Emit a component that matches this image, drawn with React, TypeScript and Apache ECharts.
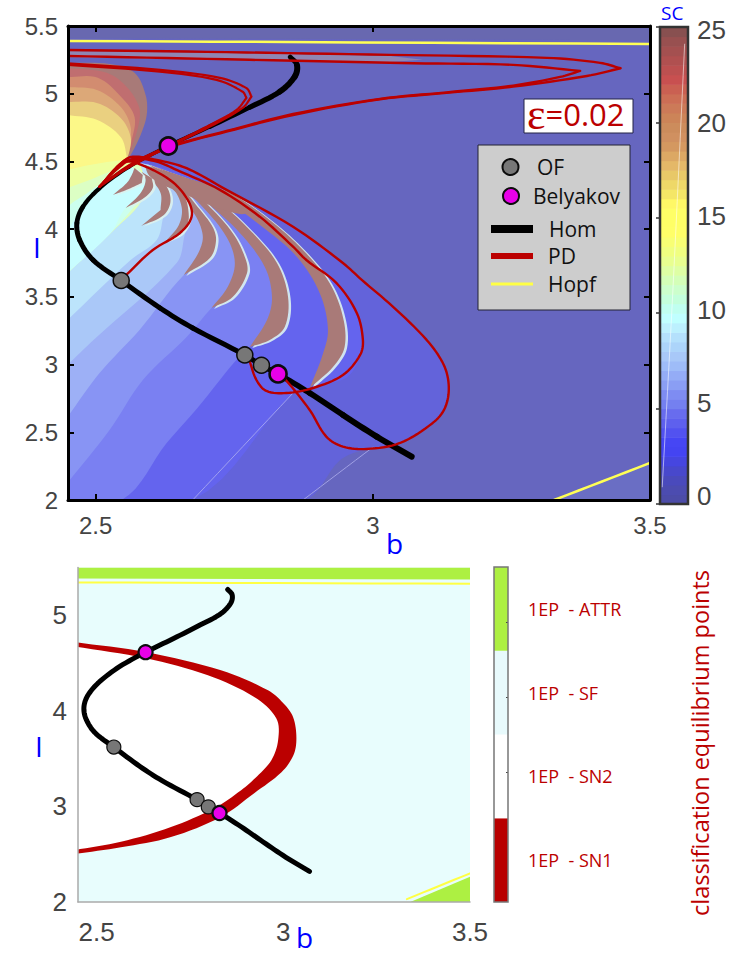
import React, { useEffect, useRef } from "react";
import * as echarts from "echarts";

type P = number[];

// ---- tick labels
const bTicks = [2.5, 3, 3.5];
const iTicksLower = [2, 3, 4, 5];
const scTicks = [0, 5, 10, 15, 20, 25];
const classTicks = [0.388, 0.612, 0.836];
const classNames = ["1EP  - SN1", "1EP  - SN2", "1EP  - SF", "1EP  - ATTR"];
const classColors = ["#b80000", "#ffffff", "#e8fafc", "#adf042"];

// ---- curves (b, I)
const hom: P[] = [[2.851,5.270],[2.863,5.213],[2.859,5.126],[2.832,5.015],[2.778,4.900],[2.706,4.757],[2.631,4.614],[2.561,4.462],[2.507,4.302],[2.477,4.166],[2.466,4.044],[2.471,3.920],[2.495,3.773],[2.546,3.621],[2.616,3.418],[2.675,3.270],[2.769,3.071],[2.799,2.995],[2.829,2.931],[2.886,2.790],[2.946,2.628],[3.007,2.468],[3.070,2.320]];
const ofPoints: P[] = [[2.546,3.621],[2.769,3.071],[2.799,2.995]];
const belyakovPoints: P[] = [[2.631,4.614],[2.829,2.931]];

const pdOuterTop: P[] = [[2.449,5.323],[2.736,5.307],[3.031,5.287],[3.314,5.265],[3.410,5.228],[3.447,5.188],[3.386,5.131],[3.253,5.052],[3.133,5.006],[3.013,4.959],[2.856,4.843],[2.736,4.720],[2.646,4.622],[2.573,4.511],[2.549,4.498],[2.507,4.314]];
const pdInnerTop: P[] = [[2.449,5.279],[2.736,5.254],[3.072,5.225],[3.253,5.213],[3.374,5.168],[3.338,5.124],[3.253,5.060],[3.133,5.010],[3.013,4.962],[2.856,4.850],[2.736,4.725],[2.646,4.630]];
const pdBigLoop: P[] = [[2.829,2.931],[2.844,2.881],[2.886,2.665],[2.916,2.468],[2.946,2.394],[2.989,2.377],[3.049,2.421],[3.108,2.569],[3.130,2.679],[3.137,2.835],[3.128,2.997],[3.097,3.182],[3.036,3.428],[2.980,3.625],[2.946,3.750],[2.856,4.018],[2.736,4.290],[2.664,4.450],[2.610,4.511],[2.567,4.535],[2.549,4.498],[2.507,4.314]];
const pdMidLoop: P[] = [[2.778,3.021],[2.790,2.886],[2.808,2.805],[2.844,2.790],[2.892,2.827],[2.946,2.923],[2.977,3.071],[2.982,3.182],[2.971,3.381],[2.934,3.603],[2.880,3.772],[2.856,3.871],[2.796,4.092],[2.724,4.290],[2.646,4.437],[2.610,4.498],[2.567,4.518],[2.537,4.437],[2.507,4.314]];
const pdSmallLoop: P[] = [[2.555,3.662],[2.603,3.846],[2.652,3.972],[2.673,4.092],[2.666,4.216],[2.634,4.363],[2.573,4.489],[2.549,4.489],[2.507,4.314]];
const pdTopLoopA: P[] = [[2.449,5.225],[2.616,5.176],[2.724,5.117],[2.772,5.041],[2.781,4.979],[2.765,4.895],[2.706,4.757],[2.646,4.637],[2.561,4.459],[2.507,4.314]];
const pdTopLoopB: P[] = [[2.449,5.213],[2.616,5.163],[2.718,5.102],[2.765,5.015],[2.772,4.969],[2.754,4.880],[2.700,4.757],[2.646,4.646],[2.561,4.474],[2.507,4.314]];
const hopfTop: P[] = [[2.449,5.390],[3.5,5.368]];
const hopfBottom: P[] = [[3.327,2.0],[3.5,2.273]];
const hopfTopLower: P[] = [[2.449,5.344],[3.5,5.33]];
const hopfBottomLower: P[] = [[3.331,2.03],[3.5,2.30]];

// ---- SC map regions (b, I)
const topStripe: P[] = [[2.449,5.5],[3.5,5.5],[3.5,5.395],[2.449,5.41]];
const grayStripe: P[] = [[2.449,5.315],[2.736,5.30],[3.031,5.278],[3.09,5.25],[3.031,5.235],[2.736,5.25],[2.449,5.27]];
const cornerRegion: P[] = [[3.327,2.0],[3.5,2.0],[3.5,2.273]];
const blobDim: P[] = [[2.449,4.54],[2.567,4.535],[2.664,4.45],[2.736,4.29],[2.856,4.018],[2.946,3.75],[3.036,3.428],[3.097,3.182],[3.128,2.997],[3.137,2.835],[3.130,2.679],[3.108,2.569],[3.049,2.421],[2.989,2.377],[2.941,2.295],[2.874,2.0],[2.449,2.0]];
const blobBright: P[] = [[2.675,2.0],[2.856,2.790],[2.904,2.849],[2.958,2.923],[2.982,3.182],[2.971,3.381],[2.934,3.603],[2.856,3.876],[2.783,4.142],[2.693,4.349],[2.561,4.511],[2.449,4.511],[2.449,2.0]];
const band1: P[] = [[2.547,2],[2.628,2.421],[2.682,2.672],[2.765,3.086],[2.814,3.256],[2.847,3.499],[2.827,3.750],[2.778,3.994],[2.718,4.216],[2.597,4.474],[2.449,4.474],[2.449,2]];
const band2: P[] = [[2.449,2.126],[2.525,2.517],[2.585,2.886],[2.664,3.204],[2.709,3.418],[2.773,3.677],[2.769,3.795],[2.747,3.972],[2.706,4.164],[2.597,4.474],[2.449,4.474]];
const band3: P[] = [[2.449,2.613],[2.507,2.938],[2.579,3.256],[2.659,3.662],[2.706,3.787],[2.717,3.913],[2.711,4.016],[2.684,4.164],[2.597,4.474],[2.449,4.474]];
const band4: P[] = [[2.449,2.997],[2.496,3.182],[2.646,3.750],[2.662,3.979],[2.673,4.068],[2.668,4.164],[2.646,4.312],[2.597,4.474],[2.449,4.474]];
const band5: P[] = [[2.449,3.329],[2.563,3.772],[2.610,3.920],[2.623,4.105],[2.635,4.216],[2.623,4.341],[2.597,4.474],[2.449,4.474]];
const heat1: P[] = [[2.449,5.228],[2.525,5.220],[2.570,5.154],[2.590,4.991],[2.592,4.843],[2.581,4.696],[2.563,4.548],[2.540,4.422],[2.507,4.290],[2.449,3.920]];
const heat2: P[] = [[2.449,5.191],[2.520,5.154],[2.556,5.050],[2.578,4.903],[2.578,4.784],[2.565,4.607],[2.554,4.511],[2.507,4.290],[2.449,3.920]];
const heat3: P[] = [[2.449,5.124],[2.504,5.117],[2.546,4.976],[2.570,4.829],[2.565,4.659],[2.554,4.511],[2.507,4.290],[2.449,3.920]];
const heat4: P[] = [[2.449,5.050],[2.502,5.028],[2.545,4.903],[2.563,4.755],[2.560,4.607],[2.554,4.511],[2.507,4.290],[2.449,3.920]];
const heat5: P[] = [[2.449,4.939],[2.502,4.932],[2.545,4.821],[2.563,4.681],[2.560,4.563],[2.554,4.511],[2.507,4.290],[2.449,3.920]];
const heat6: P[] = [[2.449,4.843],[2.502,4.807],[2.545,4.681],[2.556,4.533],[2.554,4.511],[2.507,4.290],[2.449,3.920]];
const green1: P[] = [[2.449,4.437],[2.489,4.474],[2.552,4.511],[2.579,4.511],[2.588,4.253],[2.527,3.972],[2.449,3.677]];
const green2: P[] = [[2.449,4.304],[2.489,4.363],[2.534,4.437],[2.579,4.474],[2.588,4.253],[2.527,3.972],[2.449,3.677]];
const green3: P[] = [[2.449,4.142],[2.480,4.253],[2.525,4.378],[2.561,4.474],[2.588,4.253],[2.527,3.972],[2.449,3.677]];
const cyanCap: P[] = [[2.449,3.957],[2.471,4.127],[2.516,4.341],[2.561,4.474],[2.572,4.437],[2.601,4.378],[2.603,4.304],[2.587,4.230],[2.554,4.157],[2.527,3.972],[2.449,3.677]];

const crescentA: P[] = [[2.531,4.253],[2.556,4.341],[2.565,4.400],[2.570,4.452],[2.585,4.400],[2.583,4.341],[2.556,4.290]];
const crescentB: P[] = [[2.554,4.157],[2.581,4.267],[2.590,4.363],[2.583,4.422],[2.601,4.378],[2.603,4.304],[2.587,4.230]];
const crescentC: P[] = [[2.582,4.024],[2.617,4.142],[2.617,4.267],[2.596,4.386],[2.623,4.341],[2.635,4.216],[2.623,4.105]];
const crescentD: P[] = [[2.626,3.908],[2.650,4.031],[2.655,4.164],[2.637,4.312],[2.601,4.400],[2.653,4.290],[2.668,4.090],[2.655,3.972]];
const crescentE: P[] = [[2.659,3.662],[2.686,3.832],[2.693,3.957],[2.677,4.120],[2.646,4.267],[2.597,4.437],[2.657,4.290],[2.684,4.164],[2.711,4.016],[2.717,3.913],[2.706,3.787]];
const crescentF: P[] = [[2.709,3.418],[2.738,3.573],[2.751,3.750],[2.736,3.942],[2.693,4.164],[2.652,4.312],[2.597,4.452],[2.670,4.290],[2.706,4.164],[2.747,3.972],[2.769,3.795],[2.773,3.677],[2.747,3.499]];
const crescentG: P[] = [[2.778,3.130],[2.809,3.329],[2.818,3.499],[2.805,3.721],[2.760,3.972],[2.700,4.194],[2.652,4.312],[2.597,4.474],[2.664,4.349],[2.718,4.216],[2.778,3.994],[2.827,3.750],[2.847,3.499],[2.841,3.278],[2.814,3.182]];
const crescentH: P[] = [[2.886,2.827],[2.908,3.056],[2.919,3.256],[2.904,3.529],[2.863,3.795],[2.801,4.016],[2.724,4.238],[2.657,4.363],[2.597,4.474],[2.664,4.378],[2.742,4.267],[2.814,4.068],[2.874,3.846],[2.922,3.603],[2.946,3.352],[2.949,3.130],[2.928,2.982]];
const crescentFan: P[] = [[2.588,4.474],[2.664,4.378],[2.742,4.267],[2.787,4.127],[2.760,4.112],[2.700,4.186],[2.652,4.275],[2.625,4.319],[2.597,4.393]];
const faintLineA: P[] = [[2.675,2.0],[2.856,2.790]];
const faintLineB: P[] = [[2.874,2.0],[3.0,2.39]];

// ---- classification regions (b, I)
const sn1Region: P[] = [[2.44,4.720],[2.632,4.615],[2.833,4.424],[2.959,4.215],[3.0,4.08],[3.026,3.936],[3.035,3.714],[3.027,3.536],[2.995,3.358],[2.922,3.139],[2.833,2.891],[2.699,2.679],[2.565,2.572],[2.44,2.502],[2.44,2.543],[2.565,2.630],[2.699,2.784],[2.815,2.982],[2.887,3.170],[2.930,3.317],[2.968,3.484],[2.986,3.693],[2.981,3.923],[2.922,4.145],[2.798,4.372],[2.632,4.550],[2.44,4.675]];
const sn2Region: P[] = [[2.44,2.52],[2.565,2.60],[2.699,2.73],[2.815,2.94],[2.887,3.15],[2.968,3.48],[3.0,3.70],[2.99,3.93],[2.93,4.16],[2.80,4.40],[2.632,4.58],[2.44,4.70]];
const attrTop: P[] = [[2.44,5.5],[3.51,5.5],[3.51,5.375],[2.44,5.385]];
const attrCorner: P[] = [[3.34,2.0],[3.51,2.0],[3.51,2.28]];

// ---- SC colour bar, one colour per 0.5 step from 0 to 25
const scLevels = [0,0.5,1,1.5,2,2.5,3,3.5,4,4.5,5,5.5,6,6.5,7,7.5,8,8.5,9,9.5,10,10.5,11,11.5,12,12.5,13,13.5,14,14.5,15,15.5,16,16.5,17,17.5,18,18.5,19,19.5,20,20.5,21,21.5,22,22.5,23,23.5,24,24.5];
const scColors = ["#4c4ca8","#4c4cb0","#4a4abc","#4848cc","#4646e0","#4444f2","#4646f4","#5252f0","#5e60ee","#686cee","#7480f0","#7e8cf2","#8a9ef4","#94acf6","#9ebcf8","#a8c8f8","#acd4fa","#b4e0fc","#bcf0fe","#c0ffff","#c0fff0","#c4ffdc","#ccffcc","#d4ffb8","#deffa4","#e8ff90","#f0ff80","#f8ff74","#ffff68","#ffff66","#ffff66","#fff866","#f4e666","#eed868","#e8c868","#e4b868","#dca864","#d49860","#d09060","#cc8c5c","#cc8458","#cc7a58","#cc6e55","#ca6052","#c85050","#bc5050","#b05050","#a45050","#985050","#885050"];
const scSheen: P[] = [[0.08,0.9],[0.45,10.9],[0.88,24.1]];

const SANS = "Liberation Sans";
const LABEL = "Open Sans";
const RED = "#bb0000";
const BLUE = "#0000ff";
const TICK = "#444444";
const STEPS = 8;
// stroke width of the Hom curve at each of its vertices
const homWidths = [4,6,6,5.5,5,4,3.5,3.5,4,4.5,5,5,5,5,5,5,5,5,5.5,5.5,6,6,6];

// Rounds a path through its own vertices; vertices that turn sharply stay sharp.
function rounded(pts: number[][], closed: boolean, cornerDeg = 62): number[][] {
  const n = pts.length;
  const at = (i: number) => (closed ? pts[(i + n) % n] : pts[Math.max(0, Math.min(n - 1, i))]);
  const tangents = pts.map((p, i) => {
    const a = at(i - 1);
    const b = at(i + 1);
    const u = [p[0] - a[0], p[1] - a[1]];
    const v = [b[0] - p[0], b[1] - p[1]];
    const lu = Math.hypot(u[0], u[1]);
    const lv = Math.hypot(v[0], v[1]);
    if (lu && lv) {
      const cos = (u[0] * v[0] + u[1] * v[1]) / (lu * lv);
      if ((Math.acos(Math.max(-1, Math.min(1, cos))) * 180) / Math.PI > cornerDeg) return null;
    }
    const t = [b[0] - a[0], b[1] - a[1]];
    const l = Math.hypot(t[0], t[1]) || 1;
    return [t[0] / l, t[1] / l];
  });
  const out: number[][] = [];
  const last = closed ? n : n - 1;
  for (let i = 0; i < last; i++) {
    const a = pts[i];
    const b = at(i + 1);
    const len = Math.hypot(b[0] - a[0], b[1] - a[1]);
    const dir = [(b[0] - a[0]) / (len || 1), (b[1] - a[1]) / (len || 1)];
    const m0 = tangents[i] || dir;
    const m1 = tangents[closed ? (i + 1) % n : i + 1] || dir;
    for (let k = 0; k < STEPS; k++) {
      const t = k / STEPS;
      const h00 = 2 * t * t * t - 3 * t * t + 1;
      const h10 = t * t * t - 2 * t * t + t;
      const h01 = -2 * t * t * t + 3 * t * t;
      const h11 = t * t * t - t * t;
      out.push([
        h00 * a[0] + h10 * len * m0[0] + h01 * b[0] + h11 * len * m1[0],
        h00 * a[1] + h10 * len * m0[1] + h01 * b[1] + h11 * len * m1[1],
      ]);
    }
  }
  if (!closed) out.push(pts[n - 1]);
  return out;
}

function region(points: P[], fill: string, xAxisIndex: number, yAxisIndex: number, round = true) {
  return {
    type: "custom", xAxisIndex, yAxisIndex, clip: true, silent: true, data: [0],
    renderItem: (_: any, api: any) => {
      const pts = points.map((p) => api.coord(p));
      return { type: "polygon", shape: { points: round ? rounded(pts, true) : pts }, style: { fill } };
    },
  };
}

function crescent(points: P[]) {
  return {
    type: "custom", xAxisIndex: 0, yAxisIndex: 0, clip: true, silent: true, data: [0],
    renderItem: (_: any, api: any) => {
      const pts = rounded(points.map((p) => api.coord(p)), true, 50);
      return {
        type: "group",
        children: [
          { type: "polygon", x: 2.5, y: 1, shape: { points: pts }, style: { fill: "#dcf2ee", opacity: 0.9 } },
          { type: "polygon", shape: { points: pts }, style: { fill: "#a97a78" } },
        ],
      };
    },
  };
}

function curve(data: P[], stroke: string, width: number, x: number, y: number) {
  return {
    type: "custom", xAxisIndex: x, yAxisIndex: y, clip: true, silent: true, data: [0],
    renderItem: (_: any, api: any) => ({
      type: "polyline",
      shape: { points: rounded(data.map((p) => api.coord(p)), false) },
      style: { fill: "none", stroke, lineWidth: width, lineCap: "round", lineJoin: "round" },
    }),
  };
}

function taperedCurve(data: P[], widths: number[], stroke: string, x: number, y: number) {
  return {
    type: "custom", xAxisIndex: x, yAxisIndex: y, clip: true, silent: true, data: [0],
    renderItem: (_: any, api: any) => {
      const pts = rounded(data.map((p) => api.coord(p)), false);
      const children = [];
      for (let i = 0; i < data.length - 1; i++) {
        children.push({
          type: "polyline",
          shape: { points: pts.slice(i * STEPS, (i + 1) * STEPS + 1) },
          style: { fill: "none", stroke, lineWidth: (widths[i] + widths[i + 1]) / 2, lineCap: "round", lineJoin: "round" },
        });
      }
      return { type: "group", children };
    },
  };
}

function marks(data: P[], color: string, size: number, border: number, x: number, y: number) {
  return {
    type: "scatter", xAxisIndex: x, yAxisIndex: y, data, symbol: "circle", symbolSize: size, silent: true,
    itemStyle: { color, borderColor: "#0c0c0c", borderWidth: border, opacity: 1 },
  };
}

function buildOption() {
  const mapSeries = [
    region(topStripe, "#6868b0", 0, 0, false),
    region(cornerRegion, "#6a6ec4", 0, 0, false),
    region(grayStripe, "#8f86b4", 0, 0, false),
    region(blobDim, "#6363da", 0, 0),
    region(blobBright, "#6464ee", 0, 0),
    region(band1, "#7a80f2", 0, 0),
    region(band2, "#8894f4", 0, 0),
    region(band3, "#9db0f6", 0, 0),
    region(band4, "#aac8f8", 0, 0),
    region(band5, "#bce4fb", 0, 0),
    region(heat1, "#a87a78", 0, 0),
    region(heat2, "#c06e70", 0, 0),
    region(heat3, "#d28c70", 0, 0),
    region(heat4, "#dca878", 0, 0),
    region(heat5, "#ead080", 0, 0),
    region(heat6, "#fcf888", 0, 0),
    region(green1, "#eeffa0", 0, 0),
    region(green2, "#dcffc4", 0, 0),
    region(green3, "#ccffee", 0, 0),
    region(cyanCap, "#c8fdff", 0, 0),
    crescent(crescentH), crescent(crescentG), crescent(crescentF), crescent(crescentE),
    crescent(crescentD), crescent(crescentC), crescent(crescentB), crescent(crescentA),
    region(crescentFan, "#a97a78", 0, 0),
    curve(faintLineA, "#a0a0ee", 1, 0, 0),
    curve(faintLineB, "#a0a0e4", 1, 0, 0),
  ];
  const upperCurves = [
    curve(hopfTop, "#ffff55", 2.5, 0, 0),
    curve(hopfBottom, "#ffff55", 2.5, 0, 0),
    taperedCurve(hom, homWidths, "#000000", 0, 0),
    curve(pdOuterTop, RED, 2.4, 0, 0),
    curve(pdInnerTop, RED, 2.4, 0, 0),
    curve(pdBigLoop, RED, 2.4, 0, 0),
    curve(pdMidLoop, RED, 2.4, 0, 0),
    curve(pdSmallLoop, RED, 2.4, 0, 0),
    curve(pdTopLoopA, RED, 2.2, 0, 0),
    curve(pdTopLoopB, RED, 2.2, 0, 0),
    marks(ofPoints, "#777777", 16, 1.5, 0, 0),
    marks(belyakovPoints, "#e800e8", 17, 2.6, 0, 0),
  ];
  const lowerSeries = [
    region(attrTop, "#adf042", 2, 2, false),
    region(attrCorner, "#adf042", 2, 2, false),
    region(sn2Region, "#ffffff", 2, 2),
    region(sn1Region, RED, 2, 2),
    curve(hopfTopLower, "#ffff44", 2, 2, 2),
    curve(hopfBottomLower, "#ffff44", 2, 2, 2),
    curve(hom, "#000000", 5, 2, 2),
    marks(ofPoints, "#777777", 14, 1.2, 2, 2),
    marks(belyakovPoints, "#e800e8", 14, 2.2, 2, 2),
  ];
  const scCells = {
    type: "custom", xAxisIndex: 3, yAxisIndex: 3, clip: true, silent: true,
    data: scLevels.map((v, i) => [v, i]),
    renderItem: (_: any, api: any) => {
      const v = api.value(0);
      const a = api.coord([0, v]);
      const b = api.coord([1, v + 0.5]);
      return { type: "rect", shape: { x: a[0], y: b[1], width: b[0] - a[0], height: a[1] - b[1] + 0.6 }, style: { fill: scColors[api.value(1)] } };
    },
  };
  const classBar = {
    type: "bar", xAxisIndex: 4, yAxisIndex: 5, barWidth: "100%", silent: true,
    data: classColors.map((c) => ({ value: 1, itemStyle: { color: c } })),
  };

  const text = (t: string, x: number, y: number, size: number, fill: string, extra: any = {}, el: any = {}) => ({
    type: "text", x, y, z: 60, silent: true, ...el,
    style: { text: t, fontFamily: LABEL, fontSize: size, fill, align: "left", verticalAlign: "middle", ...extra },
  });

  return {
    animation: false,
    backgroundColor: "#ffffff",
    grid: [
      { left: 68, top: 26, width: 582, height: 474, show: true, backgroundColor: "#6666bf", borderWidth: 0 },
      { left: 78, top: 567.5, width: 392, height: 334.5, show: true, backgroundColor: "#e8fdfd", borderWidth: 0 },
      { left: 660, top: 27, width: 28, height: 477, show: false },
      { left: 494, top: 567, width: 14, height: 335, show: false },
    ],
    xAxis: [
      { gridIndex: 0, type: "value", min: 2.45, max: 3.5, z: 20, splitLine: { show: false },
        axisLine: { lineStyle: { color: "#000", width: 3 } },
        axisTick: { inside: true, length: 6, customValues: bTicks, lineStyle: { color: "#000", width: 2 } },
        axisLabel: { customValues: bTicks, margin: 13, color: TICK, fontFamily: SANS, fontSize: 24, formatter: (v: number) => String(v) } },
      { gridIndex: 0, type: "value", position: "top", min: 2.45, max: 3.5, z: 20, splitLine: { show: false },
        axisLine: { lineStyle: { color: "#000", width: 3 } },
        axisTick: { inside: true, length: 6, customValues: bTicks, lineStyle: { color: "#000", width: 2 } },
        axisLabel: { show: false } },
      { gridIndex: 1, type: "value", min: 2.45, max: 3.5, z: 20, splitLine: { show: false },
        axisLine: { lineStyle: { color: "#aaaaaa", width: 1.5 } }, axisTick: { show: false },
        axisLabel: { customValues: bTicks, margin: 17, color: TICK, fontFamily: SANS, fontSize: 26, formatter: (v: number) => String(v) } },
      { gridIndex: 2, type: "value", min: 0, max: 1, show: false },
      { gridIndex: 3, type: "value", min: 0, max: 1, show: false },
    ],
    yAxis: [
      { gridIndex: 0, type: "value", min: 2, max: 5.5, interval: 0.5, z: 20, splitLine: { show: false },
        axisLine: { show: true, lineStyle: { color: "#000", width: 3 } },
        axisTick: { show: true, inside: true, length: 6, lineStyle: { color: "#000", width: 2 } },
        axisLabel: { margin: 10, color: TICK, fontFamily: SANS, fontSize: 24, formatter: (v: number) => String(v) } },
      { gridIndex: 0, type: "value", position: "right", min: 2, max: 5.5, interval: 0.5, z: 20, splitLine: { show: false },
        axisLine: { show: true, lineStyle: { color: "#000", width: 3 } },
        axisTick: { show: true, inside: true, length: 6, lineStyle: { color: "#000", width: 2 } },
        axisLabel: { show: false } },
      { gridIndex: 1, type: "value", min: 2, max: 5.5, z: 20, splitLine: { show: false },
        axisLine: { show: true, lineStyle: { color: "#aaaaaa", width: 1.5 } }, axisTick: { show: false },
        axisLabel: { customValues: iTicksLower, margin: 11, color: TICK, fontFamily: SANS, fontSize: 26, formatter: (v: number) => String(v) } },
      { gridIndex: 2, type: "value", position: "right", min: 0, max: 25, z: 20, splitLine: { show: false },
        axisLine: { show: false },
        axisTick: { show: true, inside: true, length: 4, customValues: scTicks, lineStyle: { color: "#333333", width: 1.5 } },
        axisLabel: { show: false } },
      { gridIndex: 2, type: "value", position: "right", min: -0.43, max: 25.16, z: 20, splitLine: { show: false },
        axisLine: { show: false }, axisTick: { show: false },
        axisLabel: { customValues: scTicks, margin: 9, color: TICK, fontFamily: SANS, fontSize: 26, formatter: (v: number) => String(v) } },
      { gridIndex: 3, type: "category", position: "right", data: classNames, z: 20,
        axisLine: { show: false }, axisTick: { show: false },
        axisLabel: { margin: 20, color: RED, fontFamily: LABEL, fontSize: 18 } },
      { gridIndex: 3, type: "value", position: "right", min: 0, max: 1, z: 20, splitLine: { show: false },
        axisLine: { show: false },
        axisTick: { show: true, inside: true, length: 2, customValues: classTicks, lineStyle: { color: "#444444", width: 1 } },
        axisLabel: { show: false } },
    ],
    series: [
      ...mapSeries,
      ...upperCurves,
      ...lowerSeries,
      scCells,
      curve(scSheen, "rgba(255,255,255,0.55)", 1, 3, 3),
      classBar,
    ],
    graphic: [
      text("b", 386, 543, 28, BLUE),
      text("I", 33, 247, 28, BLUE),
      text("SC", 661, 13, 19, BLUE),
      text("b", 296, 937, 28, BLUE),
      text("I", 35, 746, 28, BLUE),
      text("classification equilibrium points", 700, 743, 23.5, RED, { align: "center" }, { rotation: Math.PI / 2 }),
      { type: "rect", z: 55, silent: true, shape: { x: 660, y: 27, width: 28, height: 477 }, style: { fill: "transparent", stroke: "#333333", lineWidth: 2.5 } },
      { type: "rect", z: 55, silent: true, shape: { x: 494, y: 567, width: 14, height: 335 }, style: { fill: "transparent", stroke: "#777777", lineWidth: 1.5 } },
      { type: "rect", z: 55, silent: true, shape: { x: 524, y: 99, width: 109, height: 34 }, style: { fill: "#ffffff", stroke: "#222244", lineWidth: 1 } },
      { type: "text", z: 60, silent: true, x: 527, y: 114,
        style: { text: "{e|\u03b5}{v|=0.02}", verticalAlign: "middle", rich: {
          e: { fontFamily: "Liberation Serif", fontSize: 44, fill: RED },
          v: { fontFamily: LABEL, fontSize: 31, fill: RED } } } },
      { type: "rect", z: 55, silent: true, shape: { x: 478, y: 145, width: 152, height: 165 }, style: { fill: "#cdcdcd", stroke: "#222233", lineWidth: 1 } },
      { type: "circle", z: 60, silent: true, shape: { cx: 510.5, cy: 167, r: 8 }, style: { fill: "#777777", stroke: "#0c0c0c", lineWidth: 2 } },
      { type: "circle", z: 60, silent: true, shape: { cx: 511, cy: 196, r: 8 }, style: { fill: "#e800e8", stroke: "#0c0c0c", lineWidth: 2 } },
      text("OF", 537, 167, 21, "#111111"),
      text("Belyakov", 533, 196, 21, "#111111"),
      { type: "line", z: 60, silent: true, shape: { x1: 491, y1: 229, x2: 533, y2: 229 }, style: { stroke: "#000000", lineWidth: 8 } },
      { type: "line", z: 60, silent: true, shape: { x1: 491, y1: 256, x2: 533, y2: 256 }, style: { stroke: RED, lineWidth: 6 } },
      { type: "line", z: 60, silent: true, shape: { x1: 491, y1: 284, x2: 533, y2: 284 }, style: { stroke: "#ffff44", lineWidth: 3 } },
      text("Hom", 549, 229, 21, "#111111"),
      text("PD", 548, 256, 21, "#111111"),
      text("Hopf", 548, 284, 21, "#111111"),
    ],
  };
}

export default function App() {
  const ref = useRef<HTMLDivElement>(null);
  useEffect(() => {
    const chart = echarts.init(ref.current!, undefined, { renderer: "svg" });
    chart.setOption(buildOption());
    return () => chart.dispose();
  }, []);
  return <div ref={ref} style={{ position: "absolute", left: 0, top: 0, width: 732, height: 962 }} />;
}
